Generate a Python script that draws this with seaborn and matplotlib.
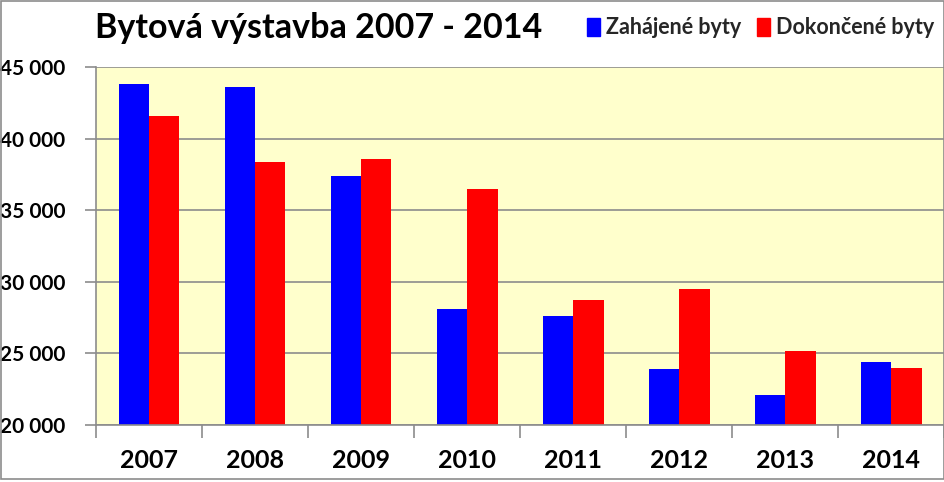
import matplotlib
matplotlib.use("Agg")
import matplotlib.pyplot as plt
import seaborn as sns
import pandas as pd
import numpy as np
from matplotlib.patches import Rectangle
from matplotlib.ticker import FuncFormatter, FixedLocator

years = ["2007", "2008", "2009", "2010", "2011", "2012", "2013", "2014"]
zahajene = [43800, 43600, 37400, 28100, 27600, 23900, 22100, 24400]
dokoncene = [41600, 38400, 38600, 36500, 28700, 29500, 25200, 24000]
series_names = ["Zahájené byty", "Dokončené byty"]
title = "Bytová výstavba 2007 - 2014"

df = pd.DataFrame({
    "rok": years * 2,
    "hodnota": zahajene + dokoncene,
    "serie": [series_names[0]] * len(years) + [series_names[1]] * len(years),
})

sns.set_theme(style="white")
plt.rcParams["font.family"] = ["Lato", "DejaVu Sans"]

fig = plt.figure(figsize=(9.45, 4.82), dpi=100)
ax = fig.add_axes([96/945, 1 - 425/482, 1 - 96/945 - 0.001, (425 - 67)/482])
ax.set_facecolor("#FFFFCC")

sns.barplot(data=df, x="rok", y="hodnota", hue="serie",
            palette=["#0000FF", "#FF0000"], width=0.575, saturation=1,
            linewidth=0, edgecolor="none", ax=ax, legend=False)

ax.set_ylim(20000, 45000)
ax.set_xlim(-0.5, len(years) - 0.5)
ax.set_yticks(np.arange(20000, 45001, 5000))
ax.yaxis.set_major_formatter(FuncFormatter(lambda v, p: f"{int(v):,}".replace(",", " ")))
ax.grid(axis="y", color="#8C8C8C", linewidth=1.2)
ax.set_axisbelow(True)
ax.set_xlabel("")
ax.set_ylabel("")

for s in ["top", "right"]:
    ax.spines[s].set_visible(False)
for s in ["left", "bottom"]:
    ax.spines[s].set_color("#8C8C8C")
    ax.spines[s].set_linewidth(1.2)

ax.tick_params(axis="y", which="major", direction="out", length=8, width=1.2,
               color="#8C8C8C", left=True, labelsize=15, pad=14)
ax.tick_params(axis="x", which="major", length=0, labelsize=18, pad=17)
ax.xaxis.set_minor_locator(FixedLocator(np.arange(-0.5, len(years), 1.0)))
ax.tick_params(axis="x", which="minor", direction="out", length=9, width=1.2,
               color="#8C8C8C", bottom=True)
for lbl in ax.get_yticklabels() + ax.get_xticklabels():
    lbl.set_fontweight("bold")
    lbl.set_color("black")

fig.text(95/945, 1 - 28/482, title, fontsize=24.5, fontweight="bold",
         va="center", ha="left", color="black")

handles = [Rectangle((0, 0), 1, 1, color="#0000FF"), Rectangle((0, 0), 1, 1, color="#FF0000")]
fig.legend(handles, series_names, loc="center right", bbox_to_anchor=(1.0, 1 - 28/482),
           ncol=2, frameon=False, handlelength=0.6, handleheight=0.9,
           handletextpad=0.3, columnspacing=0.7, borderaxespad=0.1,
           prop={"weight": "bold", "size": 15.5})

fig.add_artist(Rectangle((0.001, 0.006), 0.998, 0.992, transform=fig.transFigure,
                         fill=False, edgecolor="#8C8C8C", linewidth=1.2))

fig.savefig("out.png", dpi=100)
